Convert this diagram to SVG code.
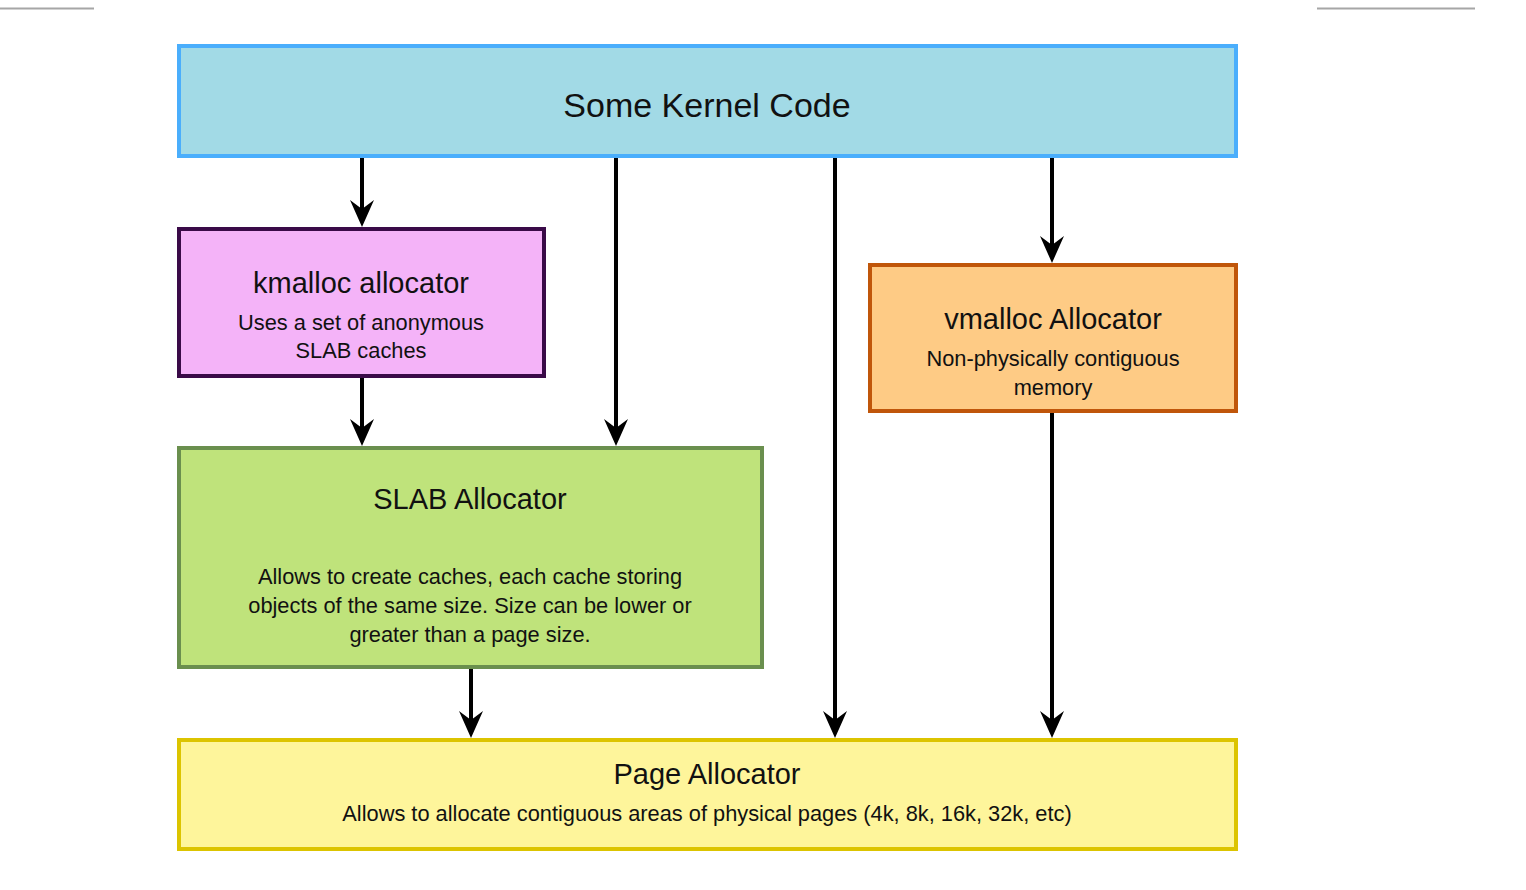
<svg xmlns="http://www.w3.org/2000/svg" width="1526" height="890" viewBox="0 0 1526 890">
<defs>
<style>
.t{font-family:"Liberation Sans",Arial,sans-serif;fill:#111;text-anchor:middle}
.h{font-size:29px}
.s{font-size:21.8px}
.c{stroke:#000;stroke-width:4;fill:none}
</style>
<marker id="ah" markerUnits="userSpaceOnUse" markerWidth="40" markerHeight="30" viewBox="-30 -15 40 30" refX="-10" refY="0" orient="auto">
<path d="M0,0 L-27,-12 L-18,0 L-27,12 Z" fill="#000"/>
</marker>
</defs>
<rect width="1526" height="890" fill="#fff"/>
<line x1="0" y1="8.5" x2="94" y2="8.5" stroke="#a6a6a6" stroke-width="2"/>
<line x1="1317" y1="8.5" x2="1475" y2="8.5" stroke="#a6a6a6" stroke-width="2"/>
<g id="connectors">
<line class="c" x1="362" y1="156" x2="362" y2="217" marker-end="url(#ah)"/>
<line class="c" x1="616" y1="156" x2="616" y2="436" marker-end="url(#ah)"/>
<line class="c" x1="835" y1="156" x2="835" y2="728" marker-end="url(#ah)"/>
<line class="c" x1="1052" y1="156" x2="1052" y2="253" marker-end="url(#ah)"/>
<line class="c" x1="362" y1="376" x2="362" y2="436" marker-end="url(#ah)"/>
<line class="c" x1="471" y1="667" x2="471" y2="728" marker-end="url(#ah)"/>
<line class="c" x1="1052" y1="411" x2="1052" y2="728" marker-end="url(#ah)"/>
</g>
<g id="kernel">
<rect x="179" y="46" width="1057" height="110" fill="#a2dae6" stroke="#4aaefc" stroke-width="4"/>
<text class="t" x="707" y="117" font-size="34">Some Kernel Code</text>
</g>
<g id="kmalloc">
<rect x="179" y="229" width="365" height="147" fill="#f4b3f8" stroke="#3a0a48" stroke-width="4"/>
<text class="t h" x="361" y="293">kmalloc allocator</text>
<text class="t s" x="361" y="330">Uses a set of anonymous</text>
<text class="t s" x="361" y="358">SLAB caches</text>
</g>
<g id="vmalloc">
<rect x="870" y="265" width="366" height="146" fill="#fecb85" stroke="#c0560a" stroke-width="4"/>
<text class="t h" x="1053" y="329">vmalloc Allocator</text>
<text class="t s" x="1053" y="366">Non-physically contiguous</text>
<text class="t s" x="1053" y="395">memory</text>
</g>
<g id="slab">
<rect x="179" y="448" width="583" height="219" fill="#bfe37b" stroke="#6a8f4e" stroke-width="4"/>
<text class="t h" x="470" y="509">SLAB Allocator</text>
<text class="t s" x="470" y="584">Allows to create caches, each cache storing</text>
<text class="t s" x="470" y="613">objects of the same size. Size can be lower or</text>
<text class="t s" x="470" y="642">greater than a page size.</text>
</g>
<g id="page">
<rect x="179" y="740" width="1057" height="109" fill="#fef59b" stroke="#dcc400" stroke-width="4"/>
<text class="t h" x="707" y="784">Page Allocator</text>
<text class="t s" x="707" y="821">Allows to allocate contiguous areas of physical pages (4k, 8k, 16k, 32k, etc)</text>
</g>
</svg>
